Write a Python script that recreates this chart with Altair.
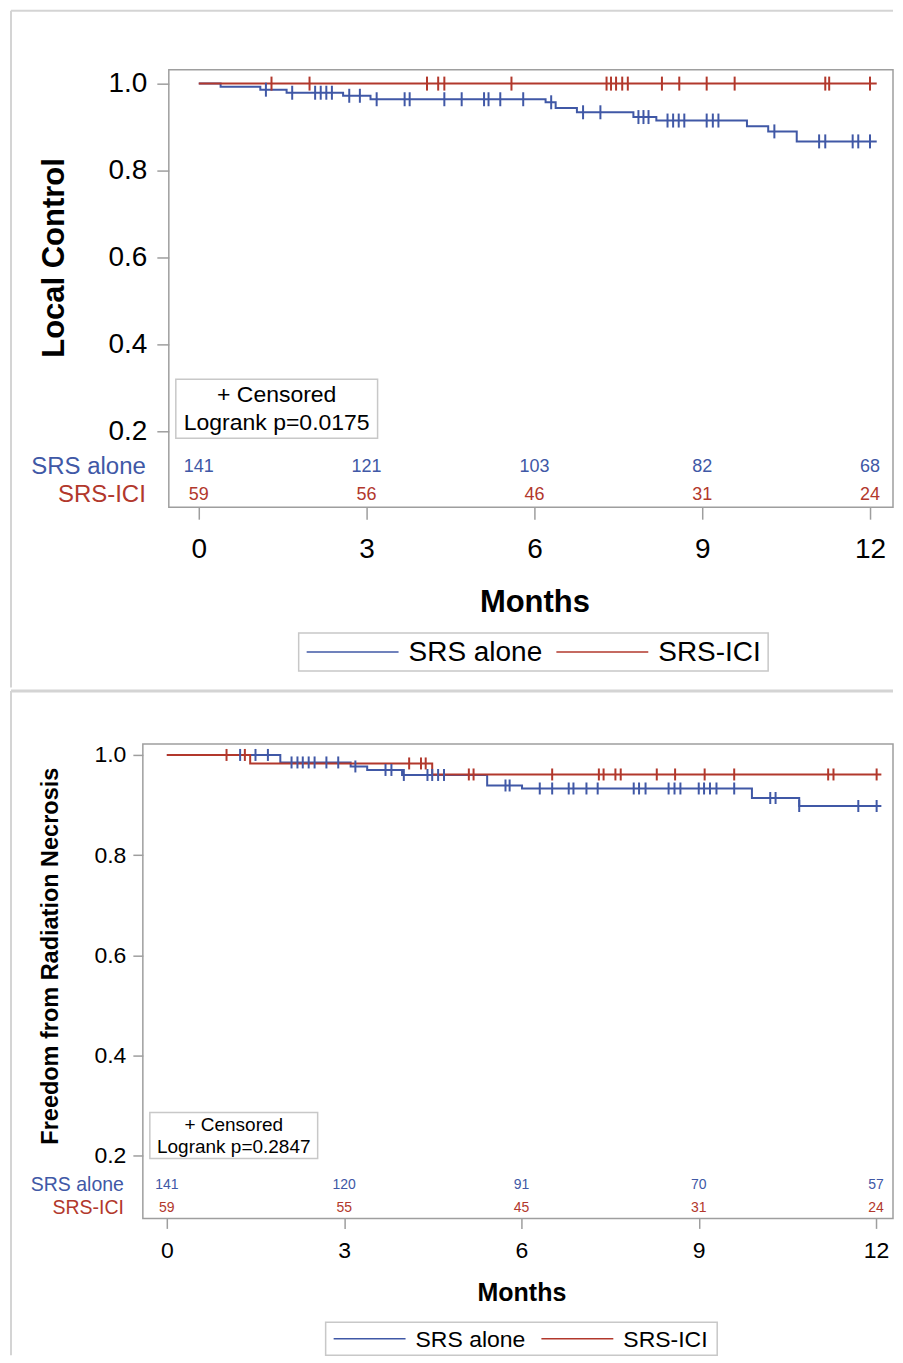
import altair as alt
import pandas as pd

FONT = "Liberation Sans"
BLUE = "#4058a6"
RED = "#b2382c"
FRAME = "#9e9e9e"
BORDER = "#d4d4d4"
GROUPS = ["SRS alone", "SRS-ICI"]

# ---------------- Panel A : Local Control ----------------
a_blue_event_t = [0.39, 1.10, 1.57, 2.58, 3.07, 6.20, 6.38, 6.76, 7.77, 8.18, 9.80, 10.18, 10.69]
a_blue_event_s = [0.993, 0.986, 0.979, 0.972, 0.964, 0.957, 0.944, 0.934, 0.923, 0.915, 0.902, 0.890, 0.867]
a_blue_cens = [1.20, 1.67, 2.08, 2.18, 2.28, 2.38, 2.69, 2.88, 3.18, 3.68, 3.77, 4.39, 4.70,
               5.10, 5.18, 5.39, 5.80, 6.30, 6.87, 7.18, 7.86, 7.95, 8.04, 8.38, 8.48, 8.58,
               8.68, 9.08, 9.19, 9.29, 10.29, 11.09, 11.20, 11.69, 11.79, 12.00]
a_blue_end = 12.12
a_red_event_t = []
a_red_event_s = []
a_red_cens = [1.30, 1.98, 4.08, 4.28, 4.39, 5.59, 7.29, 7.37, 7.46, 7.57, 7.67, 8.28, 8.59,
              9.08, 9.58, 11.20, 11.27, 12.00]
a_red_end = 12.12
a_risk_t = [0, 3, 6, 9, 12]
a_risk_blue = [141, 121, 103, 82, 68]
a_risk_red = [59, 56, 46, 31, 24]
a_ytitle = "Local Control"
a_pvalue = "Logrank p=0.0175"

# ---------------- Panel B : Radiation necrosis ----------------
b_blue_event_t = [1.92, 3.11, 3.39, 3.98, 5.42, 6.01, 9.90, 10.70]
b_blue_event_s = [0.985, 0.977, 0.970, 0.960, 0.939, 0.933, 0.914, 0.898]
b_blue_cens = [1.24, 1.50, 1.71, 2.11, 2.21, 2.30, 2.40, 2.50, 2.70, 2.90, 3.19, 3.70, 3.80,
               4.01, 4.41, 4.49, 4.59, 4.69, 5.73, 5.80, 6.31, 6.52, 6.80, 6.88, 7.10, 7.29,
               7.90, 7.99, 8.10, 8.49, 8.59, 8.69, 9.00, 9.09, 9.19, 9.30, 9.60, 10.21,
               10.30, 10.70, 11.70, 12.01]
b_blue_end = 12.09
b_red_event_t = [1.41, 4.49]
b_red_event_s = [0.983, 0.961]
b_red_cens = [1.01, 1.32, 4.10, 4.30, 4.38, 5.11, 5.19, 6.52, 7.31, 7.39, 7.59, 7.68, 8.29,
              8.60, 9.10, 9.60, 11.19, 11.28, 12.01]
b_red_end = 12.09
b_risk_t = [0, 3, 6, 9, 12]
b_risk_blue = [141, 120, 91, 70, 57]
b_risk_red = [59, 55, 45, 31, 24]
b_ytitle = "Freedom from Radiation Necrosis"
b_pvalue = "Logrank p=0.2847"


def km_frames(series):
    rows, crows = [], []
    for g, (et, es, ct, end) in series.items():
        xs = [0.0] + list(et) + [end]
        ys = [1.0] + list(es) + [es[-1] if es else 1.0]
        for i, (x, y) in enumerate(zip(xs, ys)):
            rows.append(dict(group=g, time=x, surv=y, k=i))
        for c in ct:
            s = 1.0
            for t_, s_ in zip(et, es):
                if t_ <= c:
                    s = s_
            crows.append(dict(group=g, time=c, surv=s))
    return pd.DataFrame(rows), pd.DataFrame(crows)


def panel(series, risk_t, risk_blue, risk_red, ytitle, ptext, g):
    lines, cens = km_frames(series)
    dummy = pd.DataFrame({"d": [0]})
    xs = alt.Scale(domain=g["xdom"], nice=False, zero=False)
    ys = alt.Scale(domain=g["ydom"], nice=False, zero=False)
    cs = alt.Scale(domain=GROUPS, range=[BLUE, RED])
    xaxis = alt.Axis(values=[0, 3, 6, 9, 12], format="d", title="Months",
                     labelFontSize=g["lab"], titleFontSize=g["xtitle"], titleFontWeight="bold",
                     tickSize=g["tick"], labelPadding=g["xlabpad"], titlePadding=g["xtitlepad"],
                     titleX=g["titleX"], domain=False, grid=False, tickColor=FRAME, tickWidth=1.5,
                     labelColor="black", titleColor="black", labelFont=FONT, titleFont=FONT)
    yaxis = alt.Axis(values=[0.2, 0.4, 0.6, 0.8, 1.0], format=".1f", title=ytitle,
                     labelFontSize=g["lab"], titleFontSize=g["ytitlesize"], titleFontWeight="bold",
                     tickSize=g["tick"], labelPadding=g["ylabpad"], titlePadding=g["ytitlepad"],
                     titleY=g["titleY"], offset=g["yoffset"], domain=False, grid=False,
                     tickColor=FRAME, tickWidth=1.5,
                     labelColor="black", titleColor="black", labelFont=FONT, titleFont=FONT)

    fr = g["frame"]
    frame = alt.Chart(dummy).mark_rect(fill="white", fillOpacity=0, stroke=FRAME,
                                       strokeWidth=1.5).encode(
        x=alt.value(fr[0]), x2=alt.value(fr[1]), y=alt.value(fr[2]), y2=alt.value(fr[3]))
    line = alt.Chart(lines).mark_line(interpolate="step-after", strokeWidth=g["lw"]).encode(
        x=alt.X("time:Q", scale=xs, axis=xaxis),
        y=alt.Y("surv:Q", scale=ys, axis=yaxis),
        color=alt.Color("group:N", scale=cs, legend=None, sort=GROUPS),
        order="k:Q",
    )
    ticks = alt.Chart(cens).mark_point(shape="M0,-1L0,1", size=g["csize"], filled=False,
                                       strokeWidth=g["lw"], opacity=1).encode(
        x=alt.X("time:Q", scale=xs),
        y=alt.Y("surv:Q", scale=ys),
        color=alt.Color("group:N", scale=cs, legend=None, sort=GROUPS),
    )
    rb = pd.DataFrame({"time": risk_t, "n": risk_blue})
    rr = pd.DataFrame({"time": risk_t, "n": risk_red})
    risk1 = alt.Chart(rb).mark_text(fontSize=g["riskfont"], font=FONT, color=BLUE).encode(
        x=alt.X("time:Q", scale=xs), y=alt.value(g["riskY"][0]), text="n:Q")
    risk2 = alt.Chart(rr).mark_text(fontSize=g["riskfont"], font=FONT, color=RED).encode(
        x=alt.X("time:Q", scale=xs), y=alt.value(g["riskY"][1]), text="n:Q")
    lab1 = alt.Chart(dummy).mark_text(text=GROUPS[0], align="right", fontSize=g["risklab"],
                                      font=FONT, color=BLUE).encode(
        x=alt.value(g["risklabX"]), y=alt.value(g["riskY"][0]))
    lab2 = alt.Chart(dummy).mark_text(text=GROUPS[1], align="right", fontSize=g["risklab"],
                                      font=FONT, color=RED).encode(
        x=alt.value(g["risklabX"]), y=alt.value(g["riskY"][1]))

    bx = g["box"]
    box = alt.Chart(dummy).mark_rect(fill="white", stroke="#c8c8c8", strokeWidth=1.5).encode(
        x=alt.value(bx[0]), x2=alt.value(bx[1]), y=alt.value(bx[2]), y2=alt.value(bx[3]))
    cx = (bx[0] + bx[1]) / 2
    t1 = alt.Chart(dummy).mark_text(text="+ Censored", fontSize=g["boxfont"], font=FONT,
                                    color="black").encode(x=alt.value(cx), y=alt.value(g["boxY"][0]))
    t2 = alt.Chart(dummy).mark_text(text=ptext, fontSize=g["boxfont"], font=FONT,
                                    color="black").encode(x=alt.value(cx), y=alt.value(g["boxY"][1]))

    # legend (drawn as a boxed key below the axis title)
    lg = g["leg"]  # box x1, x2, y1, y2, line length, label offset, second entry x
    lgy = (lg[2] + lg[3]) / 2
    lbox = alt.Chart(dummy).mark_rect(fill="white", stroke="#c8c8c8", strokeWidth=1.5).encode(
        x=alt.value(lg[0]), x2=alt.value(lg[1]), y=alt.value(lg[2]), y2=alt.value(lg[3]))
    key = []
    for gi, (name, col) in enumerate(zip(GROUPS, [BLUE, RED])):
        x0 = lg[0] + 8 if gi == 0 else lg[6]
        key.append(alt.Chart(dummy).mark_rule(color=col, strokeWidth=1.5).encode(
            x=alt.value(x0), x2=alt.value(x0 + lg[4]), y=alt.value(lgy)))
        key.append(alt.Chart(dummy).mark_text(text=name, align="left", fontSize=g["legfont"],
                                              font=FONT, color="black").encode(
            x=alt.value(x0 + lg[4] + lg[5]), y=alt.value(lgy + 1)))

    br = g["border"]
    bl = alt.Chart(dummy).mark_rule(color=BORDER, strokeWidth=2).encode(
        x=alt.value(br[0]), y=alt.value(br[1]), y2=alt.value(br[2]))
    bt = alt.Chart(dummy).mark_rule(color=BORDER, strokeWidth=br[4]).encode(
        x=alt.value(br[0]), x2=alt.value(br[3]), y=alt.value(br[1]))
    return alt.layer(bl, bt, frame, line, ticks, risk1, risk2, lab1, lab2, box, t1, t2,
                     lbox, *key).properties(width=g["w"], height=g["h"])


# Both panels share the same plot origin (page x = 142).
geomA = dict(w=751, h=438, xdom=[-1.0, 12.411], ydom=[0.0253, 1.032], lab=28, xtitle=31,
             ytitlesize=31, tick=12, xlabpad=16, xtitlepad=24, ylabpad=10, ytitlepad=38,
             titleY=188, titleX=392, yoffset=-26, lw=2, csize=196,
             frame=[26, 751, 0, 438],
             riskfont=18, riskY=[398, 426], risklab=24, risklabX=3,
             box=[33, 235, 310, 369], boxfont=23, boxY=[326, 354],
             leg=[156, 626, 564, 602, 92, 10, 414], legfont=28,
             border=[-132, -59, 618.5, 751, 2])
geomB = dict(w=751, h=475, xdom=[-0.406, 12.287], ydom=[0.0743, 1.022], lab=23, xtitle=25,
             ytitlesize=23.5, tick=10, xlabpad=11, xtitlepad=18, ylabpad=7, ytitlepad=31,
             titleY=212, titleX=379, yoffset=0, lw=2, csize=144,
             frame=[0, 751, 0, 475],
             riskfont=14, riskY=[442, 465], risklab=19.5, risklabX=-19,
             box=[7, 175, 369, 415], boxfont=19, boxY=[382, 404],
             leg=[183, 575, 579, 612, 72, 10, 399], legfont=23,
             border=[-132, -53, 612, 751, 3])

top = panel({GROUPS[0]: (a_blue_event_t, a_blue_event_s, a_blue_cens, a_blue_end),
             GROUPS[1]: (a_red_event_t, a_red_event_s, a_red_cens, a_red_end)},
            a_risk_t, a_risk_blue, a_risk_red, a_ytitle, a_pvalue, geomA)
bottom = panel({GROUPS[0]: (b_blue_event_t, b_blue_event_s, b_blue_cens, b_blue_end),
                GROUPS[1]: (b_red_event_t, b_red_event_s, b_red_cens, b_red_end)},
               b_risk_t, b_risk_blue, b_risk_red, b_ytitle, b_pvalue, geomB)

chart = alt.vconcat(top, bottom, spacing=0).properties(
    padding={"left": 1, "top": 1, "right": 0, "bottom": 0}
).resolve_scale(color="independent").configure(
    font=FONT
).configure_view(strokeWidth=0)

chart.save("out.html", embed_options={"renderer": "svg", "actions": False})
